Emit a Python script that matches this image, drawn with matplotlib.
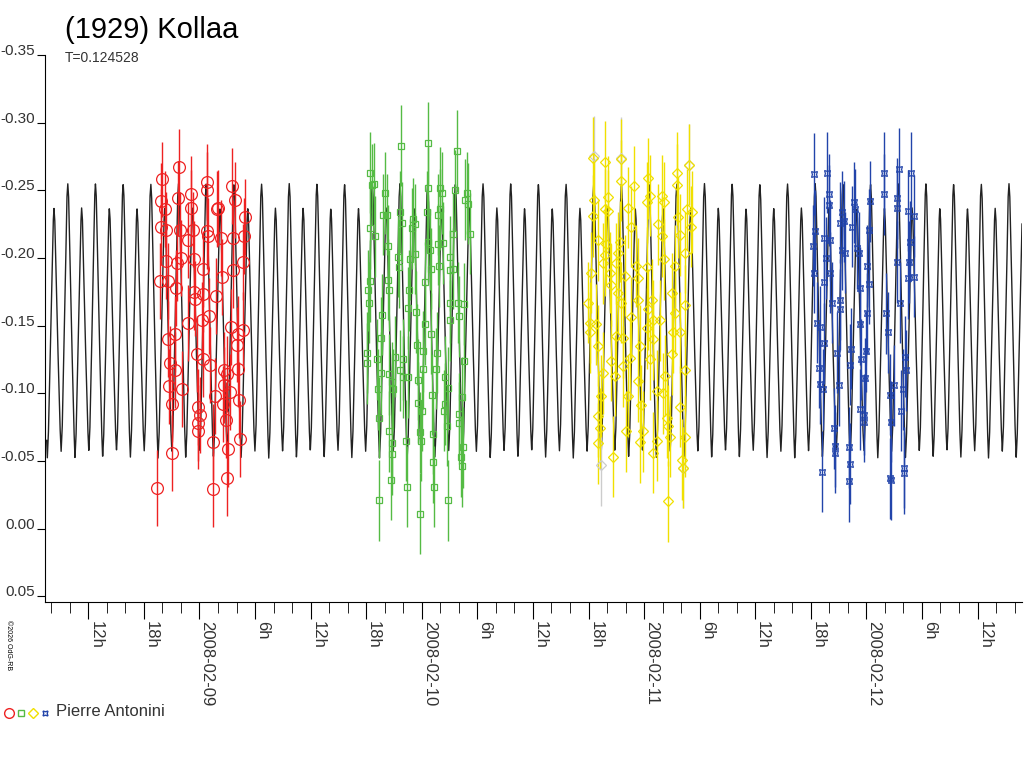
import numpy as np
import matplotlib
matplotlib.use("Agg")
import matplotlib.pyplot as plt
from matplotlib.ticker import FixedLocator, MultipleLocator

plt.rcParams['font.family'] = ['Liberation Sans', 'DejaVu Sans']

# time in hours relative to 2008-02-09 00:00 UT, magnitude
red_t = [-2.18,-4.01,-4.16,-3.73,-2.29,-0.95,-0.92,0.77,0.85,2.03,1.85,3.55,3.83,4.91,-4.16,-3.65,-2.11,-0.67,0.77,0.95,2.32,3.65,-1.21,4.81,-3.65,-2.39,-2.00,-0.59,0.41,2.47,3.65,4.73,-4.27,-3.37,-2.54,-0.59,-0.49,0.41,1.78,-1.21,0.23,1.06,3.37,4.73,-2.65,-3.37,4.12,4.01,-0.31,0.41,1.13,-3.19,-2.65,2.65,3.01,4.19,-3.29,-1.93,2.68,3.29,1.67,-3.01,-0.13,2.50,4.30,0.05,-0.13,-0.13,1.49,2.83,3.11,4.37,-3.01,-4.63,1.42,2.93]
red_m = [-0.267,-0.258,-0.242,-0.236,-0.244,-0.247,-0.237,-0.256,-0.250,-0.237,-0.236,-0.253,-0.243,-0.230,-0.223,-0.221,-0.221,-0.221,-0.220,-0.216,-0.215,-0.215,-0.213,-0.216,-0.198,-0.196,-0.200,-0.199,-0.192,-0.186,-0.191,-0.197,-0.183,-0.183,-0.178,-0.175,-0.170,-0.173,-0.172,-0.152,-0.154,-0.157,-0.149,-0.147,-0.144,-0.140,-0.144,-0.136,-0.129,-0.125,-0.121,-0.122,-0.117,-0.117,-0.114,-0.118,-0.105,-0.103,-0.106,-0.101,-0.098,-0.092,-0.090,-0.092,-0.095,-0.084,-0.078,-0.072,-0.064,-0.080,-0.059,-0.066,-0.056,-0.030,-0.029,-0.037]

green_t = [21.72,24.71,27.77,18.41,18.59,18.84,20.03,21.65,21.83,23.09,24.71,25.97,26.15,27.59,28.85,28.67,29.03,19.85,20.21,18.41,18.95,20.39,23.27,22.91,24.53,25.97,25.79,27.41,29.21,21.47,21.58,22.73,23.27,24.71,24.89,25.79,26.33,24.96,25.90,27.05,27.05,27.41,18.41,18.23,20.39,20.50,18.34,22.66,24.35,19.67,22.55,23.38,27.05,27.95,28.60,28.02,27.05,24.35,25.00,19.56,18.05,18.12,19.13,19.56,21.11,22.01,21.65,22.01,22.55,23.45,24.17,25.61,25.54,24.10,28.56,26.51,26.87,25.07,23.63,20.50,20.75,20.93,19.31,23.63,23.99,26.51,26.44,28.31,28.06,28.02,26.69,19.38,20.50,20.75,20.75,22.30,23.81,23.88,25.18,25.25,28.49,28.20,28.31,20.64,22.37,25.32,19.38,23.81,26.80]
green_m = [-0.283,-0.285,-0.279,-0.263,-0.254,-0.255,-0.248,-0.234,-0.226,-0.229,-0.252,-0.252,-0.248,-0.250,-0.248,-0.243,-0.240,-0.232,-0.232,-0.222,-0.216,-0.209,-0.225,-0.222,-0.234,-0.236,-0.232,-0.218,-0.218,-0.201,-0.193,-0.199,-0.203,-0.212,-0.206,-0.210,-0.211,-0.192,-0.194,-0.201,-0.191,-0.192,-0.183,-0.176,-0.184,-0.176,-0.167,-0.176,-0.182,-0.158,-0.163,-0.160,-0.167,-0.167,-0.166,-0.157,-0.154,-0.151,-0.144,-0.141,-0.130,-0.122,-0.125,-0.115,-0.127,-0.125,-0.117,-0.112,-0.112,-0.136,-0.131,-0.130,-0.118,-0.118,-0.124,-0.112,-0.104,-0.099,-0.110,-0.114,-0.108,-0.103,-0.103,-0.093,-0.087,-0.092,-0.087,-0.097,-0.085,-0.078,-0.076,-0.082,-0.072,-0.063,-0.055,-0.065,-0.071,-0.065,-0.070,-0.049,-0.060,-0.053,-0.046,-0.036,-0.031,-0.031,-0.021,-0.011,-0.021]

yellow_t = [42.50,43.83,45.49,45.49,46.93,48.44,48.62,49.88,50.17,51.57,51.50,52.87,42.61,44.12,43.76,44.12,42.50,46.28,46.64,48.26,49.52,49.88,51.68,52.58,53.12,53.05,51.86,42.97,43.94,45.38,43.76,43.58,45.20,45.02,47.18,48.26,50.17,51.32,52.40,42.32,44.30,45.92,47.29,45.20,44.48,41.96,45.56,47.36,48.80,50.96,52.47,42.14,42.86,46.57,48.44,48.98,49.70,51.32,42.14,42.97,45.02,45.74,48.26,47.54,48.98,51.14,51.86,50.96,44.48,45.74,46.46,48.62,43.58,44.84,47.36,50.24,52.40,43.40,46.21,49.34,50.06,43.04,47.72,51.86,50.42,43.22,46.10,47.90,50.60,43.04,47.54,49.34,50.78,52.40,44.66,48.98,52.04,52.22,50.60]
yellow_m = [-0.274,-0.271,-0.273,-0.257,-0.253,-0.259,-0.246,-0.246,-0.241,-0.263,-0.254,-0.269,-0.243,-0.245,-0.236,-0.235,-0.231,-0.237,-0.223,-0.241,-0.225,-0.216,-0.230,-0.236,-0.234,-0.223,-0.217,-0.213,-0.210,-0.212,-0.202,-0.196,-0.204,-0.196,-0.194,-0.193,-0.199,-0.194,-0.204,-0.189,-0.189,-0.187,-0.185,-0.174,-0.180,-0.167,-0.167,-0.169,-0.169,-0.174,-0.165,-0.152,-0.151,-0.156,-0.162,-0.154,-0.154,-0.159,-0.145,-0.135,-0.142,-0.141,-0.148,-0.135,-0.140,-0.145,-0.145,-0.129,-0.124,-0.120,-0.126,-0.125,-0.115,-0.113,-0.109,-0.113,-0.117,-0.098,-0.098,-0.102,-0.100,-0.083,-0.091,-0.090,-0.082,-0.074,-0.072,-0.072,-0.076,-0.063,-0.064,-0.065,-0.068,-0.068,-0.053,-0.056,-0.051,-0.045,-0.020]

gray_t = [42.6, 45.5, 52.9, 52.2, 43.3]
gray_m = [-0.275, -0.274, -0.269, -0.045, -0.047]

blue_t = [66.36,67.80,67.98,67.91,69.35,69.10,69.53,70.43,70.68,70.79,72.41,72.23,73.85,73.85,75.47,75.29,75.29,76.44,76.84,77.09,66.47,66.22,67.44,68.09,67.66,69.35,69.71,70.97,71.15,72.05,72.23,71.26,66.29,68.09,67.44,68.27,69.17,69.10,72.05,74.14,75.29,75.65,76.73,76.55,76.44,77.09,66.72,67.01,67.37,71.26,74.28,68.81,70.32,70.25,71.98,71.40,66.83,67.01,67.30,68.99,71.87,71.33,71.76,71.69,76.19,76.30,74.93,74.50,75.94,75.72,74.64,68.45,68.63,68.56,70.07,70.18,70.07,67.19,74.50,74.64,76.08,76.08]
blue_m = [-0.262,-0.263,-0.247,-0.239,-0.234,-0.226,-0.227,-0.223,-0.241,-0.236,-0.242,-0.221,-0.263,-0.247,-0.266,-0.244,-0.237,-0.235,-0.263,-0.231,-0.220,-0.209,-0.215,-0.213,-0.200,-0.206,-0.204,-0.207,-0.204,-0.194,-0.181,-0.178,-0.189,-0.189,-0.182,-0.167,-0.169,-0.162,-0.159,-0.159,-0.197,-0.167,-0.212,-0.197,-0.185,-0.186,-0.152,-0.149,-0.137,-0.151,-0.145,-0.130,-0.133,-0.121,-0.131,-0.125,-0.119,-0.107,-0.103,-0.106,-0.111,-0.088,-0.084,-0.079,-0.127,-0.117,-0.106,-0.099,-0.103,-0.087,-0.079,-0.074,-0.061,-0.056,-0.060,-0.048,-0.035,-0.042,-0.037,-0.036,-0.045,-0.041]

# model lightcurve: one period shape (phase, mag), tall maximum at epoch
period_h = 0.124528 * 24
epoch_h = 30.61
shape_phase = [0.0, 0.03, 0.12, 0.22, 0.26, 0.30, 0.40, 0.47, 0.50, 0.53, 0.62, 0.72, 0.76, 0.80, 0.90, 0.97, 1.0]
shape_mag = [-0.255, -0.245, -0.16, -0.075, -0.052, -0.07, -0.16, -0.225, -0.237, -0.228, -0.15, -0.075, -0.057, -0.075, -0.17, -0.245, -0.255]

fig = plt.figure(figsize=(10.24, 7.68), dpi=100)
ax = fig.add_axes([45/1024, 166/768, 977/1024, 547/768])

tt = np.linspace(-16.5, 88.8, 6000)
ph = ((tt - epoch_h) / period_h) % 1.0
ax.plot(tt, np.interp(ph, shape_phase, shape_mag), color='#222222', lw=1.0, zorder=2)

def night(t, m, color, marker, ms, err, z):
    ax.errorbar(t, m, yerr=err, fmt='none', ecolor=color, elinewidth=1.0, zorder=z)
    ax.plot(t, m, linestyle='none', marker=marker, ms=ms, mfc='none', mec=color, mew=0.9, zorder=z + 0.5)

night(red_t, red_m, '#ee2222', 'o', 8.5, 0.028, 3)
night(green_t, green_m, '#55bb44', 's', 5, 0.03, 3)
night(gray_t, gray_m, '#cccccc', 'D', 5, 0.03, 3)
night(yellow_t, yellow_m, '#f0e000', 'D', 5, 0.03, 3)
night(blue_t, blue_m, '#2244aa', (4, 1, 45), 6, 0.03, 3)

ax.set_xlim(-16.68, 88.8)
ax.set_ylim(0.0543, -0.35)
for s in ['top', 'right']:
    ax.spines[s].set_visible(False)
ax.set_yticks([-0.35, -0.30, -0.25, -0.20, -0.15, -0.10, -0.05, 0.00, 0.05])
ax.set_yticklabels(['-0.35', '-0.30', '-0.25', '-0.20', '-0.15', '-0.10', '-0.05', '0.00', '0.05'], fontsize=11, color='#333333')
ax.tick_params(axis='y', length=6, pad=1)
for lab in ax.get_yticklabels():
    lab.set_va('baseline')
major = list(range(-12, 89, 6))
labs = []
days = {0: '2008-02-09', 24: '2008-02-10', 48: '2008-02-11', 72: '2008-02-12'}
for h in major:
    labs.append(days.get(h, f"{h % 24}h"))
ax.xaxis.set_major_locator(FixedLocator(major))
ax.set_xticklabels(labs, rotation=270, fontsize=12, ha='left', color='#333333')
ax.xaxis.set_minor_locator(MultipleLocator(2))
ax.tick_params(axis='x', which='major', length=12, direction='out', pad=2)
ax.tick_params(axis='x', which='minor', length=8, direction='out')
for lab in ax.get_xticklabels():
    lab.set_x(lab.get_position()[0])

fig.text(65/1024, 1 - 30/768, '(1929) Kollaa', fontsize=21, va='center')
fig.text(65/1024, 1 - 58/768, 'T=0.124528', fontsize=10, va='center', color='#333333')
fig.text(5/1024, 1 - 645/768, '©2026 OdG-RB', fontsize=5, rotation=270, va='center')
lx = [9, 21, 33, 45]
cols = ['#ee2222', '#55bb44', '#f0e000', '#2244aa']
marks = ['o', 's', 'D', (4, 1, 45)]
for x, c, mk in zip(lx, cols, marks):
    fig.lines.append(plt.Line2D([x/1024], [1 - 713/768], marker=mk, ms=7 if mk == 'o' else 5,
                                mfc='none', mec=c, linestyle='none', transform=fig.transFigure))
fig.text(56/1024, 1 - 712/768, 'Pierre Antonini', fontsize=12, va='center', color='#333333')

fig.savefig('out.png', dpi=100)
